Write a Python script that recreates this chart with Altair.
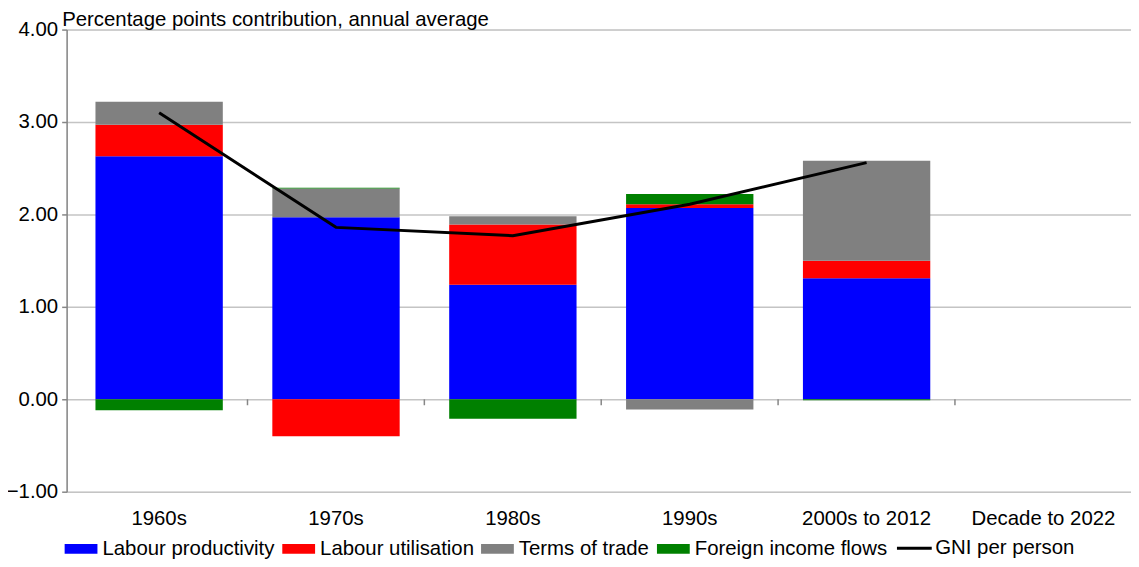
import altair as alt
import pandas as pd

categories = ["1960s", "1970s", "1980s", "1990s", "2000s to 2012", "Decade to 2022"]
series_names = ["Labour productivity", "Labour utilisation", "Terms of trade", "Foreign income flows"]
labour_productivity = [2.63, 1.97, 1.24, 2.07, 1.31]
labour_utilisation = [0.34, -0.40, 0.65, 0.04, 0.19]
terms_of_trade = [0.25, 0.31, 0.09, -0.11, 1.08]
foreign_income_flows = [-0.12, 0.01, -0.21, 0.11, -0.01]
gni_per_person = [3.10, 1.86, 1.77, 2.11, 2.56]
line_name = "GNI per person"
y_ticks = [-1, 0, 1, 2, 3, 4]

bar_colors = ["#0000ff", "#ff0000", "#808080", "#008000"]
FONT = "Liberation Sans"
FS = 20.5

rows = []
for order, (name, vals) in enumerate(zip(series_names, [labour_productivity, labour_utilisation,
                                                        terms_of_trade, foreign_income_flows])):
    for c, v in zip(categories, vals):
        rows.append({"cat": c, "series": name, "value": v, "order": order})
bars_df = pd.DataFrame(rows)
line_df = pd.DataFrame({"cat": categories[:len(gni_per_person)], "value": gni_per_person,
                        "line": line_name})
tick_df = pd.DataFrame({"cat": categories[1:]})

rect_path = "M-1,-0.3L1,-0.3L1,0.3L-1,0.3Z"

bar_legend = alt.Legend(
    orient="none", legendX=-2, legendY=506, direction="horizontal", columns=4,
    title=None, symbolType=rect_path, symbolSize=1089, labelFontSize=FS, labelFont=FONT,
    labelColor="#000000", labelOffset=5, columnPadding=7, symbolStrokeWidth=0,
    symbolOpacity=1, labelLimit=400,
)
line_legend = alt.Legend(
    orient="none", legendX=834, legendY=503, direction="horizontal",
    title=None, symbolType="stroke", symbolSize=1225, symbolStrokeWidth=3,
    labelFontSize=FS, labelFont=FONT, labelColor="#000000", labelOffset=2, labelLimit=400,
)

x_enc = alt.X("cat:N", scale=alt.Scale(domain=categories, range=[0, 1076],
                                       paddingInner=0.28, paddingOuter=0.163),
              sort=categories,
              axis=alt.Axis(title=None, labelAngle=0, labelFontSize=FS, labelFont=FONT,
                            labelColor="#000000", ticks=False, domain=False, grid=False,
                            labelPadding=17))
y_scale = alt.Scale(domain=[-1, 4], nice=False, zero=False)

bars = alt.Chart(bars_df).mark_bar().encode(
    x=x_enc,
    y=alt.Y("value:Q", stack="zero", scale=y_scale,
            axis=alt.Axis(values=y_ticks, format=".2f", labelFontSize=FS, labelFont=FONT,
                          labelColor="#000000", grid=True, gridColor="#c4c4c4", gridWidth=1.5,
                          domainColor="#868686", domainWidth=1.5, tickColor="#868686",
                          tickSize=5, tickWidth=1.5, labelPadding=4,
                          title="Percentage points contribution, annual average",
                          titleAngle=0, titleX=-5, titleY=-4, titleAlign="left",
                          titleBaseline="alphabetic", titleFontSize=FS, titleFont=FONT,
                          titleFontWeight="normal", titleColor="#000000")),
    color=alt.Color("series:N", scale=alt.Scale(domain=series_names, range=bar_colors),
                    legend=bar_legend),
    order=alt.Order("order:Q"),
)

line = alt.Chart(line_df).mark_line(strokeWidth=3).encode(
    x=alt.X("cat:N", sort=categories),
    y=alt.Y("value:Q", scale=y_scale),
    stroke=alt.Stroke("line:N", scale=alt.Scale(domain=[line_name], range=["#000000"]),
                      legend=line_legend),
)

ticks = alt.Chart(tick_df).mark_rule(color="#868686", strokeWidth=1.5, y2Offset=6, xOffset=-25,
                                     x2Offset=-25).encode(
    x=alt.X("cat:N", bandPosition=0, sort=categories),
    y=alt.datum(0),
    y2=alt.datum(0),
)

chart = alt.layer(bars, line, ticks).resolve_legend(color="independent", stroke="independent").properties(
    width=1071, height=465,
    autosize=alt.AutoSizeParams(type="none"),
    padding={"left": 59, "top": 20, "right": 0, "bottom": 66},
).configure_view(stroke=None).configure(background="#ffffff")

chart.save("out.html", embed_options={"renderer": "svg", "actions": False})
